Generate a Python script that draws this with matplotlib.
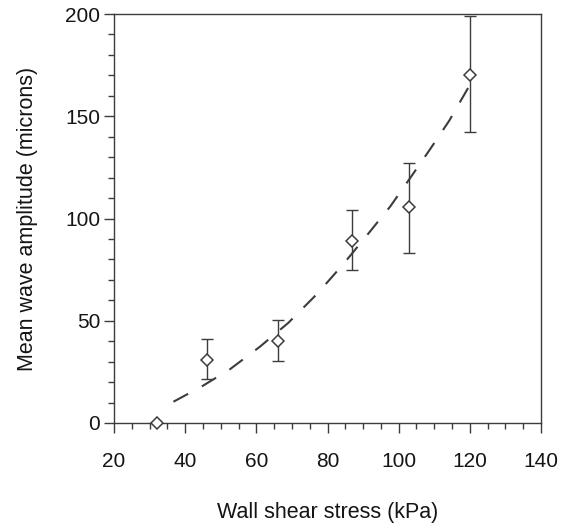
import matplotlib
matplotlib.use("Agg")
import matplotlib.pyplot as plt
from matplotlib.ticker import MultipleLocator

plt.rcParams['font.family'] = ['Liberation Sans', 'DejaVu Sans']

# Data points (wall shear stress in kPa, mean wave amplitude in microns)
stress = [32, 46, 66, 87, 103, 120]
amplitude = [0, 31, 40, 89, 105.5, 170]
err_low = [None, 21.5, 30.3, 74.7, 83.3, 142.4]
err_high = [None, 41, 50.2, 104.2, 127.3, 199]

# Fitted trend curve
fit_x = [36.7, 44.6, 52.6, 61.0, 69.0, 77.0, 84.4, 91.0, 97.6, 103.2, 108.8, 114.2, 120.0]
fit_y = [10.4, 17.8, 26.3, 37.3, 49.0, 63.0, 77.6, 91.6, 105.8, 119.7, 133.8, 147.8, 165.3]

xticks = [20, 40, 60, 80, 100, 120, 140]
yticks = [0, 50, 100, 150, 200]

ink = '#151515'
line_c = '#3c3c3c'

fig = plt.figure(figsize=(5.61, 5.29), dpi=100)
ax = fig.add_axes([114/561, 1-423/529, 427/561, 409/529])

# error bars
for x, y, lo, hi in zip(stress, amplitude, err_low, err_high):
    if lo is None:
        continue
    ax.errorbar([x], [y], yerr=[[y - lo], [hi - y]], fmt='none',
                ecolor=line_c, elinewidth=1.0, capsize=4, capthick=1.0,
                clip_on=False, zorder=2)

ax.plot(fit_x, fit_y, color=line_c, lw=1.5, dashes=(8, 7.5), zorder=3)

ax.plot(stress, amplitude, linestyle='none', marker='D', markersize=6.5,
        markerfacecolor='white', markeredgecolor=line_c, markeredgewidth=1.1,
        clip_on=False, zorder=4)

ax.set_xlim(20, 140)
ax.set_ylim(0, 200)
ax.set_xticks(xticks)
ax.set_yticks(yticks)
ax.xaxis.set_minor_locator(MultipleLocator(5))
ax.yaxis.set_minor_locator(MultipleLocator(10))

for s in ax.spines.values():
    s.set_color(line_c)
    s.set_linewidth(1.0)

ax.tick_params(axis='both', which='both', direction='out', colors=line_c,
               labelcolor=ink, top=False, right=False, width=1.0)
ax.tick_params(axis='both', which='major', length=7, labelsize=15)
ax.tick_params(axis='both', which='minor', length=4.5)
ax.tick_params(axis='x', which='major', pad=14)
ax.tick_params(axis='y', which='major', pad=3)

ax.set_xlabel('Wall shear stress (kPa)', fontsize=15.5, color=ink)
ax.set_ylabel('Mean wave amplitude (microns)', fontsize=15.5, color=ink)
ax.xaxis.set_label_coords(0.5, -0.22)
ax.xaxis.label.set_va('center')
ax.yaxis.set_label_coords(-0.202, 0.5)
ax.yaxis.label.set_va('center')

fig.savefig('out.png', dpi=100)
